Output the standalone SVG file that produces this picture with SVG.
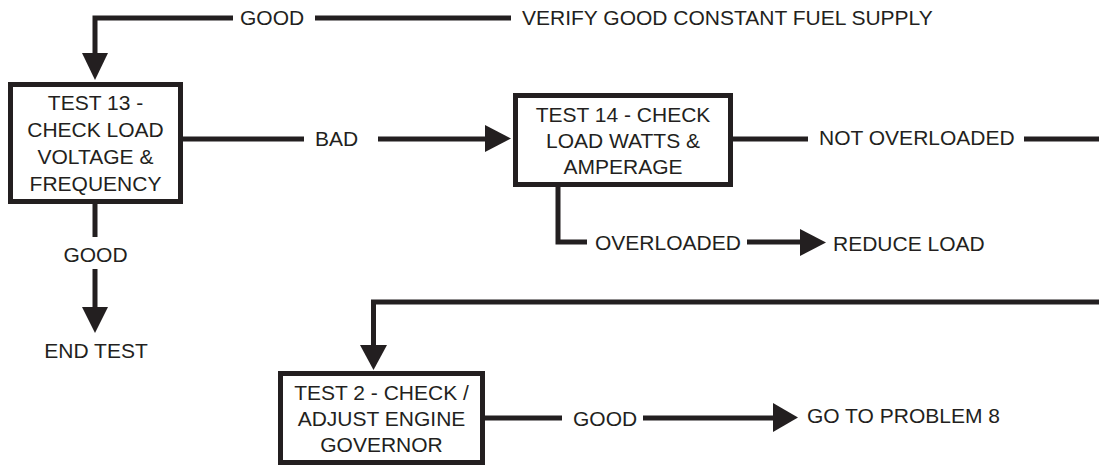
<svg xmlns="http://www.w3.org/2000/svg" width="1099" height="467" viewBox="0 0 1099 467">
<style>
text{font-family:"Liberation Sans",Arial,Helvetica,sans-serif;font-size:21px;fill:#231f20}
.c{text-anchor:middle}
.box{fill:#fff;stroke:#231f20;stroke-width:5}
.ln{fill:none;stroke:#231f20;stroke-width:5;stroke-linejoin:miter}
.ah{fill:#231f20}
</style>
<rect width="1099" height="467" fill="#fff"/>
<g id="connectors">
<path class="ln" d="M233,18 H95 V55"/>
<path class="ln" d="M315,18 H511"/>
<polygon class="ah" points="82,53 108,53 95,80"/>
<path class="ln" d="M183,139 H304"/>
<path class="ln" d="M378,139 H487"/>
<polygon class="ah" points="485,125 485,152 511,138.5"/>
<path class="ln" d="M95,204 V237"/>
<path class="ln" d="M95,269 V309"/>
<polygon class="ah" points="82,307 108,307 95,333"/>
<path class="ln" d="M733,139 H808"/>
<path class="ln" d="M1024,139 H1099"/>
<path class="ln" d="M558,187 V242 H587"/>
<path class="ln" d="M747,242 H802"/>
<polygon class="ah" points="800,229 800,256 826,242.5"/>
<path class="ln" d="M1099,302 H373.5 V347"/>
<polygon class="ah" points="360,345 387,345 373.5,370"/>
<path class="ln" d="M485,418 H562"/>
<path class="ln" d="M643,418 H775"/>
<polygon class="ah" points="773,403 773,432 798,417.5"/>
<text x="240" y="25">GOOD</text>
<text x="522" y="25">VERIFY GOOD CONSTANT FUEL SUPPLY</text>
<text x="315" y="146">BAD</text>
<text class="c" x="95.5" y="262">GOOD</text>
<text class="c" x="96" y="358">END TEST</text>
<text x="819" y="145">NOT OVERLOADED</text>
<text x="595" y="250">OVERLOADED</text>
<text x="833" y="251">REDUCE LOAD</text>
<text x="573" y="426">GOOD</text>
<text x="807" y="423">GO TO PROBLEM 8</text>
</g>
<g id="test13">
<rect class="box" x="10.5" y="84.5" width="170" height="117"/>
<text class="c" x="95.5" y="110">TEST 13 -</text>
<text class="c" x="95.5" y="137">CHECK LOAD</text>
<text class="c" x="95.5" y="164">VOLTAGE &amp;</text>
<text class="c" x="95.5" y="191">FREQUENCY</text>
</g>
<g id="test14">
<rect class="box" x="515.5" y="95.5" width="215" height="89"/>
<text class="c" x="623" y="122">TEST 14 - CHECK</text>
<text class="c" x="623" y="148">LOAD WATTS &amp;</text>
<text class="c" x="623" y="174">AMPERAGE</text>
</g>
<g id="test2">
<rect class="box" x="280.5" y="373.5" width="202" height="89"/>
<text class="c" x="381.5" y="400">TEST 2 - CHECK /</text>
<text class="c" x="381.5" y="426">ADJUST ENGINE</text>
<text class="c" x="381.5" y="452">GOVERNOR</text>
</g>
</svg>
